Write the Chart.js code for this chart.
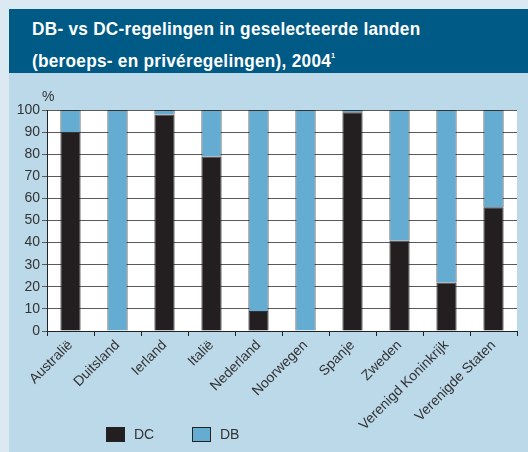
<!DOCTYPE html>
<html>
<head>
<meta charset="utf-8">
<script src="https://cdn.jsdelivr.net/npm/chart.js@4"></script>
<style>
  html, body { margin: 0; padding: 0; }
  body { width: 528px; height: 452px; background: #dbe9f3; position: relative; overflow: hidden; }
  #panel { position: absolute; left: 9px; top: 9px; width: 519px; height: 443px; background: #bcd9ea; }
  #banner {
    position: absolute; left: 0; top: 0; width: 519px; height: 64px; background: #005a86;
    box-sizing: border-box; padding: 7.4px 0 0 23px; white-space: nowrap;
  }
  #banner span {
    display: inline-block; color: #fff; font: bold 19px "Liberation Sans", Arial, sans-serif;
    line-height: 26.7px; letter-spacing: 0.3px; transform: scaleX(0.905); transform-origin: 0 0;
  }
  #banner sup { font-size: 8px; vertical-align: 9px; }
  #wrap { position: absolute; left: 0; top: 64px; width: 519px; height: 379px; }
  .leg { position: absolute; top: 418px; font: 14px "Liberation Sans", Arial, sans-serif; color: #333; }
  .leg i { position: absolute; top: 0; width: 17px; height: 13px; border: 1.5px solid #222; }
  .leg span { position: absolute; top: -1px; }
</style>
</head>
<body>
<div id="panel">
  <div id="banner"><span>DB- vs DC-regelingen in geselecteerde landen<br>(beroeps- en privéregelingen), 2004<sup>1</sup></span></div>
  <div id="wrap"><canvas id="chart" width="519" height="379"></canvas></div>
  <div class="leg" style="left:97px"><i style="background:#231f20"></i><span style="left:28px">DC</span></div>
  <div class="leg" style="left:183px"><i style="background:#64acd1"></i><span style="left:28px">DB</span></div>
</div>
<script>
// data
const countries = ["Australië", "Duitsland", "Ierland", "Italië", "Nederland",
  "Noorwegen", "Spanje", "Zweden", "Verenigd Koninkrijk", "Verenigde Staten"];
const dcValues = [90, 0, 98, 79, 9, 0, 99, 41, 22, 56];
const dbValues = [10, 100, 2, 21, 91, 100, 1, 59, 78, 44];
const yTicks = [0, 10, 20, 30, 40, 50, 60, 70, 80, 90, 100];

const FONT = "'Liberation Sans', Arial, sans-serif";

// white plot background + "%" label above the y axis
const plotDecor = {
  id: "plotDecor",
  beforeDraw(chart) {
    const { ctx, chartArea: a } = chart;
    ctx.save();
    ctx.fillStyle = "#ffffff";
    ctx.fillRect(a.left, a.top, a.right - a.left, a.bottom - a.top);
    ctx.restore();
  },
  afterDraw(chart) {
    const { ctx, chartArea: a } = chart;
    ctx.save();
    ctx.fillStyle = "#333";
    ctx.font = "14px " + FONT;
    ctx.textBaseline = "alphabetic";
    ctx.fillText("%", a.left - 5, 28);
    ctx.restore();
  }
};

new Chart(document.getElementById("chart"), {
  type: "bar",
  data: {
    labels: countries,
    datasets: [
      { label: "DC", data: dcValues, backgroundColor: "#231f20", borderColor: "#333", borderWidth: 1 },
      { label: "DB", data: dbValues, backgroundColor: "#64acd1", borderColor: "#333", borderWidth: 1 }
    ]
  },
  options: {
    responsive: false,
    animation: false,
    barPercentage: 0.43,
    categoryPercentage: 1,
    layout: { padding: { left: 0, right: 11, top: 37, bottom: 0 } },
    plugins: { legend: { display: false }, tooltip: { enabled: false } },
    scales: {
      x: {
        stacked: true,
        afterFit(scale) { scale.height = 121; },
        grid: { offset: true, drawOnChartArea: false, color: "#222", tickLength: 5 },
        border: { color: "#222", width: 1 },
        ticks: {
          autoSkip: false, maxRotation: 45, minRotation: 45, padding: 1,
          color: "#333", font: { family: FONT, size: 14 }
        }
      },
      y: {
        stacked: true,
        min: 0, max: 100,
        afterFit(scale) { scale.width = 38; },
        afterBuildTicks(scale) { scale.ticks = yTicks.map(v => ({ value: v })); },
        grid: { color: "#5a5a5a", tickLength: 5 },
        border: { color: "#222", width: 1 },
        ticks: { padding: 2, color: "#333", font: { family: FONT, size: 14 } }
      }
    }
  },
  plugins: [plotDecor]
});
</script>
</body>
</html>
